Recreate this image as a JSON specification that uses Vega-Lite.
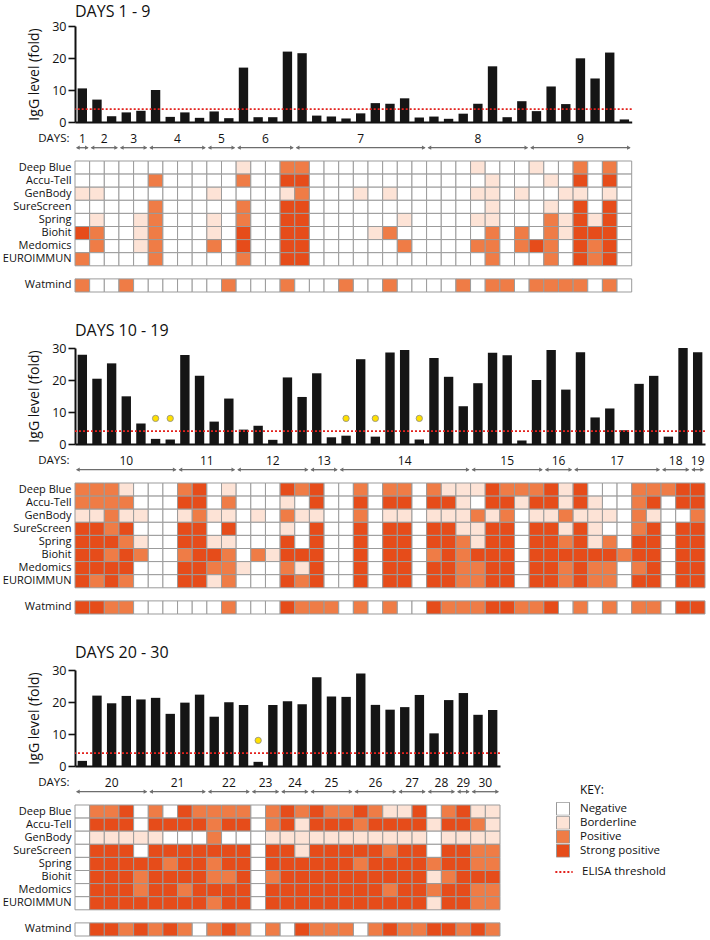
{
"$schema":"https://vega.github.io/schema/vega-lite/v6.json",
"background":"white",
"padding":{"left":2,"top":4,"right":2,"bottom":2},
"config":{"font":"Open Sans","view":{"stroke":null},"title":{"color":"#111"}},
"datasets":{
"thr":[{"thr":4,"lab":"ELISA threshold"}],
"d2":[{"col":6,"y":8},{"col":7,"y":8},{"col":19,"y":8},{"col":21,"y":8},{"col":24,"y":8}],
"d3":[{"col":13,"y":8}],
"b1":[{"col":1,"day":"1","igg":10.5},{"col":2,"day":"2","igg":7},{"col":3,"day":"2","igg":1.8},{"col":4,"day":"3","igg":3},{"col":5,"day":"3","igg":3.5},{"col":6,"day":"4","igg":10},{"col":7,"day":"4","igg":1.6},{"col":8,"day":"4","igg":3},{"col":9,"day":"4","igg":1.3},{"col":10,"day":"5","igg":3.3},{"col":11,"day":"5","igg":1.2},{"col":12,"day":"6","igg":17},{"col":13,"day":"6","igg":1.5},{"col":14,"day":"6","igg":1.5},{"col":15,"day":"6","igg":22},{"col":16,"day":"7","igg":21.5},{"col":17,"day":"7","igg":2},{"col":18,"day":"7","igg":1.7},{"col":19,"day":"7","igg":1.1},{"col":20,"day":"7","igg":2.7},{"col":21,"day":"7","igg":5.9},{"col":22,"day":"7","igg":5.7},{"col":23,"day":"7","igg":7.4},{"col":24,"day":"7","igg":1.4},{"col":25,"day":"8","igg":1.7},{"col":26,"day":"8","igg":1.0},{"col":27,"day":"8","igg":2.6},{"col":28,"day":"8","igg":5.7},{"col":29,"day":"8","igg":17.4},{"col":30,"day":"8","igg":1.5},{"col":31,"day":"8","igg":6.5},{"col":32,"day":"9","igg":3.4},{"col":33,"day":"9","igg":11.1},{"col":34,"day":"9","igg":5.6},{"col":35,"day":"9","igg":19.9},{"col":36,"day":"9","igg":13.6},{"col":37,"day":"9","igg":21.7},{"col":38,"day":"9","igg":0.8}],
"b2":[{"col":1,"day":"10","igg":27.9},{"col":2,"day":"10","igg":20.4},{"col":3,"day":"10","igg":25.2},{"col":4,"day":"10","igg":14.9},{"col":5,"day":"10","igg":6.4},{"col":6,"day":"10","igg":1.6},{"col":7,"day":"10","igg":1.4},{"col":8,"day":"11","igg":27.8},{"col":9,"day":"11","igg":21.3},{"col":10,"day":"11","igg":7.0},{"col":11,"day":"11","igg":14.2},{"col":12,"day":"12","igg":4.5},{"col":13,"day":"12","igg":5.7},{"col":14,"day":"12","igg":1.3},{"col":15,"day":"12","igg":20.8},{"col":16,"day":"12","igg":14.7},{"col":17,"day":"13","igg":22.1},{"col":18,"day":"13","igg":2.1},{"col":19,"day":"14","igg":2.6},{"col":20,"day":"14","igg":26.5},{"col":21,"day":"14","igg":2.3},{"col":22,"day":"14","igg":28.6},{"col":23,"day":"14","igg":29.4},{"col":24,"day":"14","igg":1.4},{"col":25,"day":"14","igg":26.9},{"col":26,"day":"14","igg":21.0},{"col":27,"day":"14","igg":11.8},{"col":28,"day":"15","igg":19.0},{"col":29,"day":"15","igg":28.5},{"col":30,"day":"15","igg":27.7},{"col":31,"day":"15","igg":1.1},{"col":32,"day":"15","igg":20.0},{"col":33,"day":"16","igg":29.4},{"col":34,"day":"16","igg":17.0},{"col":35,"day":"17","igg":28.7},{"col":36,"day":"17","igg":8.3},{"col":37,"day":"17","igg":11.1},{"col":38,"day":"17","igg":4.3},{"col":39,"day":"17","igg":18.8},{"col":40,"day":"17","igg":21.3},{"col":41,"day":"18","igg":2.3},{"col":42,"day":"18","igg":30.0},{"col":43,"day":"19","igg":28.7}],
"b3":[{"col":1,"day":"20","igg":1.6},{"col":2,"day":"20","igg":22.0},{"col":3,"day":"20","igg":19.6},{"col":4,"day":"20","igg":21.9},{"col":5,"day":"20","igg":20.8},{"col":6,"day":"21","igg":21.3},{"col":7,"day":"21","igg":16.3},{"col":8,"day":"21","igg":19.8},{"col":9,"day":"21","igg":22.3},{"col":10,"day":"22","igg":15.4},{"col":11,"day":"22","igg":19.9},{"col":12,"day":"22","igg":19.1},{"col":13,"day":"23","igg":1.3},{"col":14,"day":"23","igg":19.1},{"col":15,"day":"24","igg":20.2},{"col":16,"day":"24","igg":19.3},{"col":17,"day":"25","igg":27.7},{"col":18,"day":"25","igg":21.7},{"col":19,"day":"25","igg":21.6},{"col":20,"day":"26","igg":28.9},{"col":21,"day":"26","igg":19.1},{"col":22,"day":"26","igg":17.6},{"col":23,"day":"27","igg":18.4},{"col":24,"day":"27","igg":22.2},{"col":25,"day":"28","igg":10.2},{"col":26,"day":"28","igg":20.6},{"col":27,"day":"29","igg":22.8},{"col":28,"day":"30","igg":16.0},{"col":29,"day":"30","igg":17.5}],
"h1":[
{"col":1,"test":"Deep Blue","res":0},{"col":2,"test":"Deep Blue","res":0},{"col":3,"test":"Deep Blue","res":0},{"col":4,"test":"Deep Blue","res":0},{"col":5,"test":"Deep Blue","res":0},{"col":6,"test":"Deep Blue","res":0},{"col":7,"test":"Deep Blue","res":0},{"col":8,"test":"Deep Blue","res":0},{"col":9,"test":"Deep Blue","res":0},{"col":10,"test":"Deep Blue","res":0},{"col":11,"test":"Deep Blue","res":0},{"col":12,"test":"Deep Blue","res":1},{"col":13,"test":"Deep Blue","res":0},{"col":14,"test":"Deep Blue","res":0},{"col":15,"test":"Deep Blue","res":2},{"col":16,"test":"Deep Blue","res":2},{"col":17,"test":"Deep Blue","res":0},{"col":18,"test":"Deep Blue","res":0},{"col":19,"test":"Deep Blue","res":0},{"col":20,"test":"Deep Blue","res":0},{"col":21,"test":"Deep Blue","res":0},{"col":22,"test":"Deep Blue","res":0},{"col":23,"test":"Deep Blue","res":0},{"col":24,"test":"Deep Blue","res":0},{"col":25,"test":"Deep Blue","res":0},{"col":26,"test":"Deep Blue","res":0},{"col":27,"test":"Deep Blue","res":0},{"col":28,"test":"Deep Blue","res":1},{"col":29,"test":"Deep Blue","res":0},{"col":30,"test":"Deep Blue","res":0},{"col":31,"test":"Deep Blue","res":0},{"col":32,"test":"Deep Blue","res":1},{"col":33,"test":"Deep Blue","res":0},{"col":34,"test":"Deep Blue","res":0},{"col":35,"test":"Deep Blue","res":2},{"col":36,"test":"Deep Blue","res":0},{"col":37,"test":"Deep Blue","res":2},{"col":38,"test":"Deep Blue","res":0},
{"col":1,"test":"Accu-Tell","res":0},{"col":2,"test":"Accu-Tell","res":0},{"col":3,"test":"Accu-Tell","res":0},{"col":4,"test":"Accu-Tell","res":0},{"col":5,"test":"Accu-Tell","res":0},{"col":6,"test":"Accu-Tell","res":2},{"col":7,"test":"Accu-Tell","res":0},{"col":8,"test":"Accu-Tell","res":0},{"col":9,"test":"Accu-Tell","res":0},{"col":10,"test":"Accu-Tell","res":0},{"col":11,"test":"Accu-Tell","res":0},{"col":12,"test":"Accu-Tell","res":2},{"col":13,"test":"Accu-Tell","res":0},{"col":14,"test":"Accu-Tell","res":0},{"col":15,"test":"Accu-Tell","res":3},{"col":16,"test":"Accu-Tell","res":3},{"col":17,"test":"Accu-Tell","res":0},{"col":18,"test":"Accu-Tell","res":0},{"col":19,"test":"Accu-Tell","res":0},{"col":20,"test":"Accu-Tell","res":0},{"col":21,"test":"Accu-Tell","res":0},{"col":22,"test":"Accu-Tell","res":0},{"col":23,"test":"Accu-Tell","res":0},{"col":24,"test":"Accu-Tell","res":0},{"col":25,"test":"Accu-Tell","res":0},{"col":26,"test":"Accu-Tell","res":0},{"col":27,"test":"Accu-Tell","res":0},{"col":28,"test":"Accu-Tell","res":0},{"col":29,"test":"Accu-Tell","res":1},{"col":30,"test":"Accu-Tell","res":0},{"col":31,"test":"Accu-Tell","res":0},{"col":32,"test":"Accu-Tell","res":0},{"col":33,"test":"Accu-Tell","res":1},{"col":34,"test":"Accu-Tell","res":0},{"col":35,"test":"Accu-Tell","res":3},{"col":36,"test":"Accu-Tell","res":0},{"col":37,"test":"Accu-Tell","res":3},{"col":38,"test":"Accu-Tell","res":0},
{"col":1,"test":"GenBody","res":1},{"col":2,"test":"GenBody","res":1},{"col":3,"test":"GenBody","res":0},{"col":4,"test":"GenBody","res":0},{"col":5,"test":"GenBody","res":0},{"col":6,"test":"GenBody","res":0},{"col":7,"test":"GenBody","res":0},{"col":8,"test":"GenBody","res":0},{"col":9,"test":"GenBody","res":0},{"col":10,"test":"GenBody","res":1},{"col":11,"test":"GenBody","res":0},{"col":12,"test":"GenBody","res":0},{"col":13,"test":"GenBody","res":0},{"col":14,"test":"GenBody","res":0},{"col":15,"test":"GenBody","res":1},{"col":16,"test":"GenBody","res":2},{"col":17,"test":"GenBody","res":0},{"col":18,"test":"GenBody","res":0},{"col":19,"test":"GenBody","res":0},{"col":20,"test":"GenBody","res":1},{"col":21,"test":"GenBody","res":0},{"col":22,"test":"GenBody","res":1},{"col":23,"test":"GenBody","res":0},{"col":24,"test":"GenBody","res":0},{"col":25,"test":"GenBody","res":0},{"col":26,"test":"GenBody","res":0},{"col":27,"test":"GenBody","res":0},{"col":28,"test":"GenBody","res":1},{"col":29,"test":"GenBody","res":1},{"col":30,"test":"GenBody","res":0},{"col":31,"test":"GenBody","res":1},{"col":32,"test":"GenBody","res":0},{"col":33,"test":"GenBody","res":0},{"col":34,"test":"GenBody","res":1},{"col":35,"test":"GenBody","res":1},{"col":36,"test":"GenBody","res":0},{"col":37,"test":"GenBody","res":1},{"col":38,"test":"GenBody","res":0},
{"col":1,"test":"SureScreen","res":0},{"col":2,"test":"SureScreen","res":0},{"col":3,"test":"SureScreen","res":0},{"col":4,"test":"SureScreen","res":0},{"col":5,"test":"SureScreen","res":0},{"col":6,"test":"SureScreen","res":2},{"col":7,"test":"SureScreen","res":0},{"col":8,"test":"SureScreen","res":0},{"col":9,"test":"SureScreen","res":0},{"col":10,"test":"SureScreen","res":0},{"col":11,"test":"SureScreen","res":0},{"col":12,"test":"SureScreen","res":2},{"col":13,"test":"SureScreen","res":0},{"col":14,"test":"SureScreen","res":0},{"col":15,"test":"SureScreen","res":3},{"col":16,"test":"SureScreen","res":3},{"col":17,"test":"SureScreen","res":0},{"col":18,"test":"SureScreen","res":0},{"col":19,"test":"SureScreen","res":0},{"col":20,"test":"SureScreen","res":0},{"col":21,"test":"SureScreen","res":0},{"col":22,"test":"SureScreen","res":0},{"col":23,"test":"SureScreen","res":0},{"col":24,"test":"SureScreen","res":0},{"col":25,"test":"SureScreen","res":0},{"col":26,"test":"SureScreen","res":0},{"col":27,"test":"SureScreen","res":0},{"col":28,"test":"SureScreen","res":0},{"col":29,"test":"SureScreen","res":1},{"col":30,"test":"SureScreen","res":0},{"col":31,"test":"SureScreen","res":0},{"col":32,"test":"SureScreen","res":0},{"col":33,"test":"SureScreen","res":1},{"col":34,"test":"SureScreen","res":0},{"col":35,"test":"SureScreen","res":3},{"col":36,"test":"SureScreen","res":0},{"col":37,"test":"SureScreen","res":3},{"col":38,"test":"SureScreen","res":0},
{"col":1,"test":"Spring","res":0},{"col":2,"test":"Spring","res":1},{"col":3,"test":"Spring","res":0},{"col":4,"test":"Spring","res":0},{"col":5,"test":"Spring","res":1},{"col":6,"test":"Spring","res":2},{"col":7,"test":"Spring","res":0},{"col":8,"test":"Spring","res":0},{"col":9,"test":"Spring","res":0},{"col":10,"test":"Spring","res":1},{"col":11,"test":"Spring","res":0},{"col":12,"test":"Spring","res":2},{"col":13,"test":"Spring","res":0},{"col":14,"test":"Spring","res":0},{"col":15,"test":"Spring","res":3},{"col":16,"test":"Spring","res":3},{"col":17,"test":"Spring","res":0},{"col":18,"test":"Spring","res":0},{"col":19,"test":"Spring","res":0},{"col":20,"test":"Spring","res":0},{"col":21,"test":"Spring","res":0},{"col":22,"test":"Spring","res":0},{"col":23,"test":"Spring","res":1},{"col":24,"test":"Spring","res":0},{"col":25,"test":"Spring","res":0},{"col":26,"test":"Spring","res":0},{"col":27,"test":"Spring","res":0},{"col":28,"test":"Spring","res":1},{"col":29,"test":"Spring","res":1},{"col":30,"test":"Spring","res":0},{"col":31,"test":"Spring","res":0},{"col":32,"test":"Spring","res":0},{"col":33,"test":"Spring","res":2},{"col":34,"test":"Spring","res":1},{"col":35,"test":"Spring","res":3},{"col":36,"test":"Spring","res":1},{"col":37,"test":"Spring","res":3},{"col":38,"test":"Spring","res":0},
{"col":1,"test":"Biohit","res":3},{"col":2,"test":"Biohit","res":2},{"col":3,"test":"Biohit","res":0},{"col":4,"test":"Biohit","res":0},{"col":5,"test":"Biohit","res":1},{"col":6,"test":"Biohit","res":2},{"col":7,"test":"Biohit","res":0},{"col":8,"test":"Biohit","res":0},{"col":9,"test":"Biohit","res":0},{"col":10,"test":"Biohit","res":1},{"col":11,"test":"Biohit","res":0},{"col":12,"test":"Biohit","res":3},{"col":13,"test":"Biohit","res":0},{"col":14,"test":"Biohit","res":0},{"col":15,"test":"Biohit","res":3},{"col":16,"test":"Biohit","res":3},{"col":17,"test":"Biohit","res":0},{"col":18,"test":"Biohit","res":0},{"col":19,"test":"Biohit","res":0},{"col":20,"test":"Biohit","res":0},{"col":21,"test":"Biohit","res":1},{"col":22,"test":"Biohit","res":2},{"col":23,"test":"Biohit","res":0},{"col":24,"test":"Biohit","res":0},{"col":25,"test":"Biohit","res":0},{"col":26,"test":"Biohit","res":0},{"col":27,"test":"Biohit","res":0},{"col":28,"test":"Biohit","res":0},{"col":29,"test":"Biohit","res":2},{"col":30,"test":"Biohit","res":0},{"col":31,"test":"Biohit","res":2},{"col":32,"test":"Biohit","res":0},{"col":33,"test":"Biohit","res":2},{"col":34,"test":"Biohit","res":1},{"col":35,"test":"Biohit","res":3},{"col":36,"test":"Biohit","res":3},{"col":37,"test":"Biohit","res":3},{"col":38,"test":"Biohit","res":0},
{"col":1,"test":"Medomics","res":0},{"col":2,"test":"Medomics","res":2},{"col":3,"test":"Medomics","res":0},{"col":4,"test":"Medomics","res":0},{"col":5,"test":"Medomics","res":1},{"col":6,"test":"Medomics","res":2},{"col":7,"test":"Medomics","res":0},{"col":8,"test":"Medomics","res":0},{"col":9,"test":"Medomics","res":0},{"col":10,"test":"Medomics","res":2},{"col":11,"test":"Medomics","res":0},{"col":12,"test":"Medomics","res":3},{"col":13,"test":"Medomics","res":0},{"col":14,"test":"Medomics","res":0},{"col":15,"test":"Medomics","res":3},{"col":16,"test":"Medomics","res":3},{"col":17,"test":"Medomics","res":0},{"col":18,"test":"Medomics","res":0},{"col":19,"test":"Medomics","res":0},{"col":20,"test":"Medomics","res":0},{"col":21,"test":"Medomics","res":0},{"col":22,"test":"Medomics","res":0},{"col":23,"test":"Medomics","res":2},{"col":24,"test":"Medomics","res":0},{"col":25,"test":"Medomics","res":0},{"col":26,"test":"Medomics","res":0},{"col":27,"test":"Medomics","res":0},{"col":28,"test":"Medomics","res":2},{"col":29,"test":"Medomics","res":2},{"col":30,"test":"Medomics","res":0},{"col":31,"test":"Medomics","res":2},{"col":32,"test":"Medomics","res":3},{"col":33,"test":"Medomics","res":2},{"col":34,"test":"Medomics","res":0},{"col":35,"test":"Medomics","res":3},{"col":36,"test":"Medomics","res":2},{"col":37,"test":"Medomics","res":3},{"col":38,"test":"Medomics","res":0},
{"col":1,"test":"EUROIMMUN","res":2},{"col":2,"test":"EUROIMMUN","res":0},{"col":3,"test":"EUROIMMUN","res":0},{"col":4,"test":"EUROIMMUN","res":0},{"col":5,"test":"EUROIMMUN","res":0},{"col":6,"test":"EUROIMMUN","res":2},{"col":7,"test":"EUROIMMUN","res":0},{"col":8,"test":"EUROIMMUN","res":0},{"col":9,"test":"EUROIMMUN","res":0},{"col":10,"test":"EUROIMMUN","res":0},{"col":11,"test":"EUROIMMUN","res":0},{"col":12,"test":"EUROIMMUN","res":2},{"col":13,"test":"EUROIMMUN","res":0},{"col":14,"test":"EUROIMMUN","res":0},{"col":15,"test":"EUROIMMUN","res":3},{"col":16,"test":"EUROIMMUN","res":3},{"col":17,"test":"EUROIMMUN","res":0},{"col":18,"test":"EUROIMMUN","res":0},{"col":19,"test":"EUROIMMUN","res":0},{"col":20,"test":"EUROIMMUN","res":0},{"col":21,"test":"EUROIMMUN","res":0},{"col":22,"test":"EUROIMMUN","res":0},{"col":23,"test":"EUROIMMUN","res":0},{"col":24,"test":"EUROIMMUN","res":0},{"col":25,"test":"EUROIMMUN","res":0},{"col":26,"test":"EUROIMMUN","res":0},{"col":27,"test":"EUROIMMUN","res":0},{"col":28,"test":"EUROIMMUN","res":0},{"col":29,"test":"EUROIMMUN","res":2},{"col":30,"test":"EUROIMMUN","res":0},{"col":31,"test":"EUROIMMUN","res":0},{"col":32,"test":"EUROIMMUN","res":0},{"col":33,"test":"EUROIMMUN","res":2},{"col":34,"test":"EUROIMMUN","res":0},{"col":35,"test":"EUROIMMUN","res":3},{"col":36,"test":"EUROIMMUN","res":2},{"col":37,"test":"EUROIMMUN","res":3},{"col":38,"test":"EUROIMMUN","res":0},
{"col":1,"test":"Watmind","res":2},{"col":2,"test":"Watmind","res":0},{"col":3,"test":"Watmind","res":0},{"col":4,"test":"Watmind","res":2},{"col":5,"test":"Watmind","res":0},{"col":6,"test":"Watmind","res":0},{"col":7,"test":"Watmind","res":0},{"col":8,"test":"Watmind","res":0},{"col":9,"test":"Watmind","res":0},{"col":10,"test":"Watmind","res":0},{"col":11,"test":"Watmind","res":2},{"col":12,"test":"Watmind","res":0},{"col":13,"test":"Watmind","res":0},{"col":14,"test":"Watmind","res":0},{"col":15,"test":"Watmind","res":2},{"col":16,"test":"Watmind","res":0},{"col":17,"test":"Watmind","res":0},{"col":18,"test":"Watmind","res":0},{"col":19,"test":"Watmind","res":2},{"col":20,"test":"Watmind","res":0},{"col":21,"test":"Watmind","res":0},{"col":22,"test":"Watmind","res":2},{"col":23,"test":"Watmind","res":0},{"col":24,"test":"Watmind","res":0},{"col":25,"test":"Watmind","res":0},{"col":26,"test":"Watmind","res":0},{"col":27,"test":"Watmind","res":2},{"col":28,"test":"Watmind","res":0},{"col":29,"test":"Watmind","res":2},{"col":30,"test":"Watmind","res":2},{"col":31,"test":"Watmind","res":0},{"col":32,"test":"Watmind","res":2},{"col":33,"test":"Watmind","res":2},{"col":34,"test":"Watmind","res":2},{"col":35,"test":"Watmind","res":2},{"col":36,"test":"Watmind","res":0},{"col":37,"test":"Watmind","res":2},{"col":38,"test":"Watmind","res":0}
],
"h2":[
{"col":1,"test":"Deep Blue","res":2},{"col":2,"test":"Deep Blue","res":2},{"col":3,"test":"Deep Blue","res":2},{"col":4,"test":"Deep Blue","res":1},{"col":5,"test":"Deep Blue","res":0},{"col":6,"test":"Deep Blue","res":0},{"col":7,"test":"Deep Blue","res":0},{"col":8,"test":"Deep Blue","res":2},{"col":9,"test":"Deep Blue","res":3},{"col":10,"test":"Deep Blue","res":0},{"col":11,"test":"Deep Blue","res":1},{"col":12,"test":"Deep Blue","res":0},{"col":13,"test":"Deep Blue","res":0},{"col":14,"test":"Deep Blue","res":0},{"col":15,"test":"Deep Blue","res":3},{"col":16,"test":"Deep Blue","res":2},{"col":17,"test":"Deep Blue","res":3},{"col":18,"test":"Deep Blue","res":0},{"col":19,"test":"Deep Blue","res":0},{"col":20,"test":"Deep Blue","res":2},{"col":21,"test":"Deep Blue","res":0},{"col":22,"test":"Deep Blue","res":2},{"col":23,"test":"Deep Blue","res":2},{"col":24,"test":"Deep Blue","res":0},{"col":25,"test":"Deep Blue","res":2},{"col":26,"test":"Deep Blue","res":1},{"col":27,"test":"Deep Blue","res":1},{"col":28,"test":"Deep Blue","res":1},{"col":29,"test":"Deep Blue","res":3},{"col":30,"test":"Deep Blue","res":2},{"col":31,"test":"Deep Blue","res":2},{"col":32,"test":"Deep Blue","res":2},{"col":33,"test":"Deep Blue","res":3},{"col":34,"test":"Deep Blue","res":1},{"col":35,"test":"Deep Blue","res":3},{"col":36,"test":"Deep Blue","res":0},{"col":37,"test":"Deep Blue","res":0},{"col":38,"test":"Deep Blue","res":0},{"col":39,"test":"Deep Blue","res":2},{"col":40,"test":"Deep Blue","res":2},{"col":41,"test":"Deep Blue","res":2},{"col":42,"test":"Deep Blue","res":3},{"col":43,"test":"Deep Blue","res":3},
{"col":1,"test":"Accu-Tell","res":2},{"col":2,"test":"Accu-Tell","res":2},{"col":3,"test":"Accu-Tell","res":2},{"col":4,"test":"Accu-Tell","res":2},{"col":5,"test":"Accu-Tell","res":0},{"col":6,"test":"Accu-Tell","res":0},{"col":7,"test":"Accu-Tell","res":0},{"col":8,"test":"Accu-Tell","res":3},{"col":9,"test":"Accu-Tell","res":3},{"col":10,"test":"Accu-Tell","res":0},{"col":11,"test":"Accu-Tell","res":2},{"col":12,"test":"Accu-Tell","res":0},{"col":13,"test":"Accu-Tell","res":0},{"col":14,"test":"Accu-Tell","res":0},{"col":15,"test":"Accu-Tell","res":1},{"col":16,"test":"Accu-Tell","res":0},{"col":17,"test":"Accu-Tell","res":3},{"col":18,"test":"Accu-Tell","res":0},{"col":19,"test":"Accu-Tell","res":0},{"col":20,"test":"Accu-Tell","res":3},{"col":21,"test":"Accu-Tell","res":0},{"col":22,"test":"Accu-Tell","res":3},{"col":23,"test":"Accu-Tell","res":3},{"col":24,"test":"Accu-Tell","res":0},{"col":25,"test":"Accu-Tell","res":3},{"col":26,"test":"Accu-Tell","res":3},{"col":27,"test":"Accu-Tell","res":1},{"col":28,"test":"Accu-Tell","res":0},{"col":29,"test":"Accu-Tell","res":3},{"col":30,"test":"Accu-Tell","res":3},{"col":31,"test":"Accu-Tell","res":1},{"col":32,"test":"Accu-Tell","res":3},{"col":33,"test":"Accu-Tell","res":3},{"col":34,"test":"Accu-Tell","res":1},{"col":35,"test":"Accu-Tell","res":3},{"col":36,"test":"Accu-Tell","res":1},{"col":37,"test":"Accu-Tell","res":0},{"col":38,"test":"Accu-Tell","res":0},{"col":39,"test":"Accu-Tell","res":2},{"col":40,"test":"Accu-Tell","res":3},{"col":41,"test":"Accu-Tell","res":0},{"col":42,"test":"Accu-Tell","res":3},{"col":43,"test":"Accu-Tell","res":3},
{"col":1,"test":"GenBody","res":1},{"col":2,"test":"GenBody","res":1},{"col":3,"test":"GenBody","res":2},{"col":4,"test":"GenBody","res":1},{"col":5,"test":"GenBody","res":1},{"col":6,"test":"GenBody","res":0},{"col":7,"test":"GenBody","res":0},{"col":8,"test":"GenBody","res":1},{"col":9,"test":"GenBody","res":2},{"col":10,"test":"GenBody","res":1},{"col":11,"test":"GenBody","res":1},{"col":12,"test":"GenBody","res":0},{"col":13,"test":"GenBody","res":1},{"col":14,"test":"GenBody","res":0},{"col":15,"test":"GenBody","res":2},{"col":16,"test":"GenBody","res":1},{"col":17,"test":"GenBody","res":1},{"col":18,"test":"GenBody","res":0},{"col":19,"test":"GenBody","res":0},{"col":20,"test":"GenBody","res":2},{"col":21,"test":"GenBody","res":0},{"col":22,"test":"GenBody","res":1},{"col":23,"test":"GenBody","res":1},{"col":24,"test":"GenBody","res":0},{"col":25,"test":"GenBody","res":1},{"col":26,"test":"GenBody","res":1},{"col":27,"test":"GenBody","res":1},{"col":28,"test":"GenBody","res":2},{"col":29,"test":"GenBody","res":1},{"col":30,"test":"GenBody","res":2},{"col":31,"test":"GenBody","res":0},{"col":32,"test":"GenBody","res":1},{"col":33,"test":"GenBody","res":1},{"col":34,"test":"GenBody","res":2},{"col":35,"test":"GenBody","res":1},{"col":36,"test":"GenBody","res":1},{"col":37,"test":"GenBody","res":1},{"col":38,"test":"GenBody","res":0},{"col":39,"test":"GenBody","res":2},{"col":40,"test":"GenBody","res":1},{"col":41,"test":"GenBody","res":0},{"col":42,"test":"GenBody","res":0},{"col":43,"test":"GenBody","res":2},
{"col":1,"test":"SureScreen","res":3},{"col":2,"test":"SureScreen","res":3},{"col":3,"test":"SureScreen","res":2},{"col":4,"test":"SureScreen","res":3},{"col":5,"test":"SureScreen","res":0},{"col":6,"test":"SureScreen","res":0},{"col":7,"test":"SureScreen","res":0},{"col":8,"test":"SureScreen","res":3},{"col":9,"test":"SureScreen","res":3},{"col":10,"test":"SureScreen","res":0},{"col":11,"test":"SureScreen","res":3},{"col":12,"test":"SureScreen","res":0},{"col":13,"test":"SureScreen","res":0},{"col":14,"test":"SureScreen","res":0},{"col":15,"test":"SureScreen","res":1},{"col":16,"test":"SureScreen","res":0},{"col":17,"test":"SureScreen","res":3},{"col":18,"test":"SureScreen","res":0},{"col":19,"test":"SureScreen","res":0},{"col":20,"test":"SureScreen","res":3},{"col":21,"test":"SureScreen","res":0},{"col":22,"test":"SureScreen","res":3},{"col":23,"test":"SureScreen","res":3},{"col":24,"test":"SureScreen","res":0},{"col":25,"test":"SureScreen","res":3},{"col":26,"test":"SureScreen","res":3},{"col":27,"test":"SureScreen","res":1},{"col":28,"test":"SureScreen","res":1},{"col":29,"test":"SureScreen","res":3},{"col":30,"test":"SureScreen","res":3},{"col":31,"test":"SureScreen","res":0},{"col":32,"test":"SureScreen","res":3},{"col":33,"test":"SureScreen","res":3},{"col":34,"test":"SureScreen","res":1},{"col":35,"test":"SureScreen","res":3},{"col":36,"test":"SureScreen","res":1},{"col":37,"test":"SureScreen","res":0},{"col":38,"test":"SureScreen","res":0},{"col":39,"test":"SureScreen","res":2},{"col":40,"test":"SureScreen","res":3},{"col":41,"test":"SureScreen","res":0},{"col":42,"test":"SureScreen","res":3},{"col":43,"test":"SureScreen","res":3},
{"col":1,"test":"Spring","res":3},{"col":2,"test":"Spring","res":3},{"col":3,"test":"Spring","res":3},{"col":4,"test":"Spring","res":2},{"col":5,"test":"Spring","res":1},{"col":6,"test":"Spring","res":0},{"col":7,"test":"Spring","res":0},{"col":8,"test":"Spring","res":3},{"col":9,"test":"Spring","res":3},{"col":10,"test":"Spring","res":1},{"col":11,"test":"Spring","res":1},{"col":12,"test":"Spring","res":0},{"col":13,"test":"Spring","res":0},{"col":14,"test":"Spring","res":0},{"col":15,"test":"Spring","res":3},{"col":16,"test":"Spring","res":0},{"col":17,"test":"Spring","res":3},{"col":18,"test":"Spring","res":0},{"col":19,"test":"Spring","res":0},{"col":20,"test":"Spring","res":3},{"col":21,"test":"Spring","res":0},{"col":22,"test":"Spring","res":3},{"col":23,"test":"Spring","res":3},{"col":24,"test":"Spring","res":0},{"col":25,"test":"Spring","res":3},{"col":26,"test":"Spring","res":3},{"col":27,"test":"Spring","res":2},{"col":28,"test":"Spring","res":1},{"col":29,"test":"Spring","res":3},{"col":30,"test":"Spring","res":3},{"col":31,"test":"Spring","res":0},{"col":32,"test":"Spring","res":3},{"col":33,"test":"Spring","res":3},{"col":34,"test":"Spring","res":2},{"col":35,"test":"Spring","res":3},{"col":36,"test":"Spring","res":1},{"col":37,"test":"Spring","res":2},{"col":38,"test":"Spring","res":0},{"col":39,"test":"Spring","res":3},{"col":40,"test":"Spring","res":3},{"col":41,"test":"Spring","res":0},{"col":42,"test":"Spring","res":3},{"col":43,"test":"Spring","res":3},
{"col":1,"test":"Biohit","res":3},{"col":2,"test":"Biohit","res":3},{"col":3,"test":"Biohit","res":2},{"col":4,"test":"Biohit","res":3},{"col":5,"test":"Biohit","res":2},{"col":6,"test":"Biohit","res":0},{"col":7,"test":"Biohit","res":0},{"col":8,"test":"Biohit","res":2},{"col":9,"test":"Biohit","res":3},{"col":10,"test":"Biohit","res":3},{"col":11,"test":"Biohit","res":2},{"col":12,"test":"Biohit","res":0},{"col":13,"test":"Biohit","res":2},{"col":14,"test":"Biohit","res":1},{"col":15,"test":"Biohit","res":3},{"col":16,"test":"Biohit","res":3},{"col":17,"test":"Biohit","res":3},{"col":18,"test":"Biohit","res":0},{"col":19,"test":"Biohit","res":0},{"col":20,"test":"Biohit","res":3},{"col":21,"test":"Biohit","res":0},{"col":22,"test":"Biohit","res":3},{"col":23,"test":"Biohit","res":3},{"col":24,"test":"Biohit","res":0},{"col":25,"test":"Biohit","res":2},{"col":26,"test":"Biohit","res":3},{"col":27,"test":"Biohit","res":2},{"col":28,"test":"Biohit","res":3},{"col":29,"test":"Biohit","res":3},{"col":30,"test":"Biohit","res":3},{"col":31,"test":"Biohit","res":0},{"col":32,"test":"Biohit","res":3},{"col":33,"test":"Biohit","res":3},{"col":34,"test":"Biohit","res":3},{"col":35,"test":"Biohit","res":3},{"col":36,"test":"Biohit","res":3},{"col":37,"test":"Biohit","res":3},{"col":38,"test":"Biohit","res":2},{"col":39,"test":"Biohit","res":3},{"col":40,"test":"Biohit","res":3},{"col":41,"test":"Biohit","res":0},{"col":42,"test":"Biohit","res":3},{"col":43,"test":"Biohit","res":3},
{"col":1,"test":"Medomics","res":3},{"col":2,"test":"Medomics","res":3},{"col":3,"test":"Medomics","res":3},{"col":4,"test":"Medomics","res":3},{"col":5,"test":"Medomics","res":0},{"col":6,"test":"Medomics","res":0},{"col":7,"test":"Medomics","res":0},{"col":8,"test":"Medomics","res":3},{"col":9,"test":"Medomics","res":3},{"col":10,"test":"Medomics","res":2},{"col":11,"test":"Medomics","res":2},{"col":12,"test":"Medomics","res":1},{"col":13,"test":"Medomics","res":0},{"col":14,"test":"Medomics","res":0},{"col":15,"test":"Medomics","res":2},{"col":16,"test":"Medomics","res":1},{"col":17,"test":"Medomics","res":3},{"col":18,"test":"Medomics","res":0},{"col":19,"test":"Medomics","res":0},{"col":20,"test":"Medomics","res":3},{"col":21,"test":"Medomics","res":0},{"col":22,"test":"Medomics","res":3},{"col":23,"test":"Medomics","res":3},{"col":24,"test":"Medomics","res":0},{"col":25,"test":"Medomics","res":3},{"col":26,"test":"Medomics","res":3},{"col":27,"test":"Medomics","res":2},{"col":28,"test":"Medomics","res":2},{"col":29,"test":"Medomics","res":3},{"col":30,"test":"Medomics","res":3},{"col":31,"test":"Medomics","res":0},{"col":32,"test":"Medomics","res":3},{"col":33,"test":"Medomics","res":3},{"col":34,"test":"Medomics","res":2},{"col":35,"test":"Medomics","res":3},{"col":36,"test":"Medomics","res":2},{"col":37,"test":"Medomics","res":2},{"col":38,"test":"Medomics","res":0},{"col":39,"test":"Medomics","res":2},{"col":40,"test":"Medomics","res":3},{"col":41,"test":"Medomics","res":0},{"col":42,"test":"Medomics","res":3},{"col":43,"test":"Medomics","res":3},
{"col":1,"test":"EUROIMMUN","res":3},{"col":2,"test":"EUROIMMUN","res":2},{"col":3,"test":"EUROIMMUN","res":3},{"col":4,"test":"EUROIMMUN","res":2},{"col":5,"test":"EUROIMMUN","res":0},{"col":6,"test":"EUROIMMUN","res":0},{"col":7,"test":"EUROIMMUN","res":0},{"col":8,"test":"EUROIMMUN","res":3},{"col":9,"test":"EUROIMMUN","res":3},{"col":10,"test":"EUROIMMUN","res":1},{"col":11,"test":"EUROIMMUN","res":2},{"col":12,"test":"EUROIMMUN","res":0},{"col":13,"test":"EUROIMMUN","res":0},{"col":14,"test":"EUROIMMUN","res":0},{"col":15,"test":"EUROIMMUN","res":3},{"col":16,"test":"EUROIMMUN","res":2},{"col":17,"test":"EUROIMMUN","res":3},{"col":18,"test":"EUROIMMUN","res":0},{"col":19,"test":"EUROIMMUN","res":0},{"col":20,"test":"EUROIMMUN","res":3},{"col":21,"test":"EUROIMMUN","res":0},{"col":22,"test":"EUROIMMUN","res":3},{"col":23,"test":"EUROIMMUN","res":3},{"col":24,"test":"EUROIMMUN","res":0},{"col":25,"test":"EUROIMMUN","res":3},{"col":26,"test":"EUROIMMUN","res":3},{"col":27,"test":"EUROIMMUN","res":2},{"col":28,"test":"EUROIMMUN","res":2},{"col":29,"test":"EUROIMMUN","res":3},{"col":30,"test":"EUROIMMUN","res":3},{"col":31,"test":"EUROIMMUN","res":0},{"col":32,"test":"EUROIMMUN","res":3},{"col":33,"test":"EUROIMMUN","res":3},{"col":34,"test":"EUROIMMUN","res":2},{"col":35,"test":"EUROIMMUN","res":3},{"col":36,"test":"EUROIMMUN","res":2},{"col":37,"test":"EUROIMMUN","res":2},{"col":38,"test":"EUROIMMUN","res":0},{"col":39,"test":"EUROIMMUN","res":3},{"col":40,"test":"EUROIMMUN","res":3},{"col":41,"test":"EUROIMMUN","res":0},{"col":42,"test":"EUROIMMUN","res":3},{"col":43,"test":"EUROIMMUN","res":3},
{"col":1,"test":"Watmind","res":3},{"col":2,"test":"Watmind","res":3},{"col":3,"test":"Watmind","res":2},{"col":4,"test":"Watmind","res":2},{"col":5,"test":"Watmind","res":0},{"col":6,"test":"Watmind","res":0},{"col":7,"test":"Watmind","res":0},{"col":8,"test":"Watmind","res":0},{"col":9,"test":"Watmind","res":0},{"col":10,"test":"Watmind","res":0},{"col":11,"test":"Watmind","res":2},{"col":12,"test":"Watmind","res":0},{"col":13,"test":"Watmind","res":0},{"col":14,"test":"Watmind","res":0},{"col":15,"test":"Watmind","res":3},{"col":16,"test":"Watmind","res":2},{"col":17,"test":"Watmind","res":2},{"col":18,"test":"Watmind","res":2},{"col":19,"test":"Watmind","res":0},{"col":20,"test":"Watmind","res":2},{"col":21,"test":"Watmind","res":0},{"col":22,"test":"Watmind","res":2},{"col":23,"test":"Watmind","res":0},{"col":24,"test":"Watmind","res":0},{"col":25,"test":"Watmind","res":3},{"col":26,"test":"Watmind","res":2},{"col":27,"test":"Watmind","res":2},{"col":28,"test":"Watmind","res":2},{"col":29,"test":"Watmind","res":3},{"col":30,"test":"Watmind","res":3},{"col":31,"test":"Watmind","res":2},{"col":32,"test":"Watmind","res":2},{"col":33,"test":"Watmind","res":3},{"col":34,"test":"Watmind","res":0},{"col":35,"test":"Watmind","res":2},{"col":36,"test":"Watmind","res":0},{"col":37,"test":"Watmind","res":2},{"col":38,"test":"Watmind","res":0},{"col":39,"test":"Watmind","res":2},{"col":40,"test":"Watmind","res":2},{"col":41,"test":"Watmind","res":0},{"col":42,"test":"Watmind","res":3},{"col":43,"test":"Watmind","res":3}
],
"h3":[
{"col":1,"test":"Deep Blue","res":0},{"col":2,"test":"Deep Blue","res":2},{"col":3,"test":"Deep Blue","res":2},{"col":4,"test":"Deep Blue","res":3},{"col":5,"test":"Deep Blue","res":0},{"col":6,"test":"Deep Blue","res":2},{"col":7,"test":"Deep Blue","res":0},{"col":8,"test":"Deep Blue","res":3},{"col":9,"test":"Deep Blue","res":2},{"col":10,"test":"Deep Blue","res":2},{"col":11,"test":"Deep Blue","res":2},{"col":12,"test":"Deep Blue","res":2},{"col":13,"test":"Deep Blue","res":0},{"col":14,"test":"Deep Blue","res":2},{"col":15,"test":"Deep Blue","res":3},{"col":16,"test":"Deep Blue","res":2},{"col":17,"test":"Deep Blue","res":3},{"col":18,"test":"Deep Blue","res":2},{"col":19,"test":"Deep Blue","res":2},{"col":20,"test":"Deep Blue","res":3},{"col":21,"test":"Deep Blue","res":2},{"col":22,"test":"Deep Blue","res":1},{"col":23,"test":"Deep Blue","res":1},{"col":24,"test":"Deep Blue","res":3},{"col":25,"test":"Deep Blue","res":0},{"col":26,"test":"Deep Blue","res":2},{"col":27,"test":"Deep Blue","res":3},{"col":28,"test":"Deep Blue","res":1},{"col":29,"test":"Deep Blue","res":1},
{"col":1,"test":"Accu-Tell","res":0},{"col":2,"test":"Accu-Tell","res":3},{"col":3,"test":"Accu-Tell","res":3},{"col":4,"test":"Accu-Tell","res":3},{"col":5,"test":"Accu-Tell","res":0},{"col":6,"test":"Accu-Tell","res":3},{"col":7,"test":"Accu-Tell","res":3},{"col":8,"test":"Accu-Tell","res":3},{"col":9,"test":"Accu-Tell","res":3},{"col":10,"test":"Accu-Tell","res":2},{"col":11,"test":"Accu-Tell","res":3},{"col":12,"test":"Accu-Tell","res":3},{"col":13,"test":"Accu-Tell","res":0},{"col":14,"test":"Accu-Tell","res":2},{"col":15,"test":"Accu-Tell","res":3},{"col":16,"test":"Accu-Tell","res":1},{"col":17,"test":"Accu-Tell","res":3},{"col":18,"test":"Accu-Tell","res":3},{"col":19,"test":"Accu-Tell","res":3},{"col":20,"test":"Accu-Tell","res":2},{"col":21,"test":"Accu-Tell","res":3},{"col":22,"test":"Accu-Tell","res":3},{"col":23,"test":"Accu-Tell","res":3},{"col":24,"test":"Accu-Tell","res":3},{"col":25,"test":"Accu-Tell","res":1},{"col":26,"test":"Accu-Tell","res":3},{"col":27,"test":"Accu-Tell","res":3},{"col":28,"test":"Accu-Tell","res":2},{"col":29,"test":"Accu-Tell","res":1},
{"col":1,"test":"GenBody","res":0},{"col":2,"test":"GenBody","res":1},{"col":3,"test":"GenBody","res":1},{"col":4,"test":"GenBody","res":1},{"col":5,"test":"GenBody","res":1},{"col":6,"test":"GenBody","res":1},{"col":7,"test":"GenBody","res":0},{"col":8,"test":"GenBody","res":0},{"col":9,"test":"GenBody","res":0},{"col":10,"test":"GenBody","res":2},{"col":11,"test":"GenBody","res":0},{"col":12,"test":"GenBody","res":0},{"col":13,"test":"GenBody","res":0},{"col":14,"test":"GenBody","res":1},{"col":15,"test":"GenBody","res":1},{"col":16,"test":"GenBody","res":1},{"col":17,"test":"GenBody","res":1},{"col":18,"test":"GenBody","res":1},{"col":19,"test":"GenBody","res":1},{"col":20,"test":"GenBody","res":1},{"col":21,"test":"GenBody","res":1},{"col":22,"test":"GenBody","res":1},{"col":23,"test":"GenBody","res":1},{"col":24,"test":"GenBody","res":1},{"col":25,"test":"GenBody","res":0},{"col":26,"test":"GenBody","res":1},{"col":27,"test":"GenBody","res":1},{"col":28,"test":"GenBody","res":1},{"col":29,"test":"GenBody","res":1},
{"col":1,"test":"SureScreen","res":0},{"col":2,"test":"SureScreen","res":3},{"col":3,"test":"SureScreen","res":3},{"col":4,"test":"SureScreen","res":3},{"col":5,"test":"SureScreen","res":0},{"col":6,"test":"SureScreen","res":3},{"col":7,"test":"SureScreen","res":3},{"col":8,"test":"SureScreen","res":3},{"col":9,"test":"SureScreen","res":3},{"col":10,"test":"SureScreen","res":3},{"col":11,"test":"SureScreen","res":3},{"col":12,"test":"SureScreen","res":3},{"col":13,"test":"SureScreen","res":0},{"col":14,"test":"SureScreen","res":3},{"col":15,"test":"SureScreen","res":3},{"col":16,"test":"SureScreen","res":1},{"col":17,"test":"SureScreen","res":3},{"col":18,"test":"SureScreen","res":3},{"col":19,"test":"SureScreen","res":3},{"col":20,"test":"SureScreen","res":3},{"col":21,"test":"SureScreen","res":3},{"col":22,"test":"SureScreen","res":2},{"col":23,"test":"SureScreen","res":3},{"col":24,"test":"SureScreen","res":3},{"col":25,"test":"SureScreen","res":0},{"col":26,"test":"SureScreen","res":3},{"col":27,"test":"SureScreen","res":3},{"col":28,"test":"SureScreen","res":2},{"col":29,"test":"SureScreen","res":2},
{"col":1,"test":"Spring","res":0},{"col":2,"test":"Spring","res":3},{"col":3,"test":"Spring","res":3},{"col":4,"test":"Spring","res":3},{"col":5,"test":"Spring","res":3},{"col":6,"test":"Spring","res":3},{"col":7,"test":"Spring","res":2},{"col":8,"test":"Spring","res":3},{"col":9,"test":"Spring","res":3},{"col":10,"test":"Spring","res":2},{"col":11,"test":"Spring","res":3},{"col":12,"test":"Spring","res":3},{"col":13,"test":"Spring","res":0},{"col":14,"test":"Spring","res":3},{"col":15,"test":"Spring","res":3},{"col":16,"test":"Spring","res":3},{"col":17,"test":"Spring","res":3},{"col":18,"test":"Spring","res":3},{"col":19,"test":"Spring","res":3},{"col":20,"test":"Spring","res":2},{"col":21,"test":"Spring","res":3},{"col":22,"test":"Spring","res":3},{"col":23,"test":"Spring","res":3},{"col":24,"test":"Spring","res":3},{"col":25,"test":"Spring","res":2},{"col":26,"test":"Spring","res":3},{"col":27,"test":"Spring","res":3},{"col":28,"test":"Spring","res":2},{"col":29,"test":"Spring","res":2},
{"col":1,"test":"Biohit","res":0},{"col":2,"test":"Biohit","res":3},{"col":3,"test":"Biohit","res":3},{"col":4,"test":"Biohit","res":3},{"col":5,"test":"Biohit","res":2},{"col":6,"test":"Biohit","res":3},{"col":7,"test":"Biohit","res":3},{"col":8,"test":"Biohit","res":3},{"col":9,"test":"Biohit","res":3},{"col":10,"test":"Biohit","res":2},{"col":11,"test":"Biohit","res":2},{"col":12,"test":"Biohit","res":3},{"col":13,"test":"Biohit","res":0},{"col":14,"test":"Biohit","res":2},{"col":15,"test":"Biohit","res":3},{"col":16,"test":"Biohit","res":3},{"col":17,"test":"Biohit","res":3},{"col":18,"test":"Biohit","res":3},{"col":19,"test":"Biohit","res":3},{"col":20,"test":"Biohit","res":3},{"col":21,"test":"Biohit","res":3},{"col":22,"test":"Biohit","res":3},{"col":23,"test":"Biohit","res":3},{"col":24,"test":"Biohit","res":3},{"col":25,"test":"Biohit","res":1},{"col":26,"test":"Biohit","res":2},{"col":27,"test":"Biohit","res":3},{"col":28,"test":"Biohit","res":3},{"col":29,"test":"Biohit","res":3},
{"col":1,"test":"Medomics","res":0},{"col":2,"test":"Medomics","res":3},{"col":3,"test":"Medomics","res":3},{"col":4,"test":"Medomics","res":3},{"col":5,"test":"Medomics","res":2},{"col":6,"test":"Medomics","res":3},{"col":7,"test":"Medomics","res":3},{"col":8,"test":"Medomics","res":2},{"col":9,"test":"Medomics","res":3},{"col":10,"test":"Medomics","res":3},{"col":11,"test":"Medomics","res":3},{"col":12,"test":"Medomics","res":3},{"col":13,"test":"Medomics","res":0},{"col":14,"test":"Medomics","res":3},{"col":15,"test":"Medomics","res":3},{"col":16,"test":"Medomics","res":3},{"col":17,"test":"Medomics","res":3},{"col":18,"test":"Medomics","res":3},{"col":19,"test":"Medomics","res":3},{"col":20,"test":"Medomics","res":3},{"col":21,"test":"Medomics","res":3},{"col":22,"test":"Medomics","res":2},{"col":23,"test":"Medomics","res":3},{"col":24,"test":"Medomics","res":3},{"col":25,"test":"Medomics","res":2},{"col":26,"test":"Medomics","res":3},{"col":27,"test":"Medomics","res":3},{"col":28,"test":"Medomics","res":2},{"col":29,"test":"Medomics","res":2},
{"col":1,"test":"EUROIMMUN","res":0},{"col":2,"test":"EUROIMMUN","res":3},{"col":3,"test":"EUROIMMUN","res":3},{"col":4,"test":"EUROIMMUN","res":3},{"col":5,"test":"EUROIMMUN","res":3},{"col":6,"test":"EUROIMMUN","res":3},{"col":7,"test":"EUROIMMUN","res":3},{"col":8,"test":"EUROIMMUN","res":3},{"col":9,"test":"EUROIMMUN","res":3},{"col":10,"test":"EUROIMMUN","res":2},{"col":11,"test":"EUROIMMUN","res":3},{"col":12,"test":"EUROIMMUN","res":3},{"col":13,"test":"EUROIMMUN","res":0},{"col":14,"test":"EUROIMMUN","res":3},{"col":15,"test":"EUROIMMUN","res":3},{"col":16,"test":"EUROIMMUN","res":3},{"col":17,"test":"EUROIMMUN","res":3},{"col":18,"test":"EUROIMMUN","res":3},{"col":19,"test":"EUROIMMUN","res":3},{"col":20,"test":"EUROIMMUN","res":3},{"col":21,"test":"EUROIMMUN","res":3},{"col":22,"test":"EUROIMMUN","res":3},{"col":23,"test":"EUROIMMUN","res":3},{"col":24,"test":"EUROIMMUN","res":3},{"col":25,"test":"EUROIMMUN","res":1},{"col":26,"test":"EUROIMMUN","res":3},{"col":27,"test":"EUROIMMUN","res":3},{"col":28,"test":"EUROIMMUN","res":2},{"col":29,"test":"EUROIMMUN","res":2},
{"col":1,"test":"Watmind","res":0},{"col":2,"test":"Watmind","res":3},{"col":3,"test":"Watmind","res":3},{"col":4,"test":"Watmind","res":2},{"col":5,"test":"Watmind","res":3},{"col":6,"test":"Watmind","res":2},{"col":7,"test":"Watmind","res":3},{"col":8,"test":"Watmind","res":2},{"col":9,"test":"Watmind","res":0},{"col":10,"test":"Watmind","res":2},{"col":11,"test":"Watmind","res":3},{"col":12,"test":"Watmind","res":2},{"col":13,"test":"Watmind","res":0},{"col":14,"test":"Watmind","res":2},{"col":15,"test":"Watmind","res":0},{"col":16,"test":"Watmind","res":3},{"col":17,"test":"Watmind","res":2},{"col":18,"test":"Watmind","res":2},{"col":19,"test":"Watmind","res":2},{"col":20,"test":"Watmind","res":0},{"col":21,"test":"Watmind","res":2},{"col":22,"test":"Watmind","res":3},{"col":23,"test":"Watmind","res":2},{"col":24,"test":"Watmind","res":2},{"col":25,"test":"Watmind","res":3},{"col":26,"test":"Watmind","res":3},{"col":27,"test":"Watmind","res":2},{"col":28,"test":"Watmind","res":3},{"col":29,"test":"Watmind","res":2}
]
},
"vconcat":[
{"spacing":3,"vconcat":[
 {"width":556.7,"height":96,
  "title":{"text":"DAYS 1 - 9","anchor":"start","frame":"group","fontSize":16,"fontWeight":"normal","offset":0},
  "layer":[
   {"data":{"name":"b1"},"mark":{"type":"bar","color":"#151515"},
    "encoding":{"x":{"field":"col","type":"ordinal","scale":{"paddingInner":0.36,"paddingOuter":0.18},"axis":{"title":null,"labels":false,"ticks":false,"domainColor":"#111","domainWidth":2}},
     "y":{"field":"igg","type":"quantitative","scale":{"domain":[0,30],"nice":false},"axis":{"title":"IgG level (fold)","titleFontSize":14,"titleFontWeight":"normal","titleColor":"#111","titlePadding":10,"values":[0,10,20,30],"labelOverlap":false,"grid":false,"domainColor":"#111","domainWidth":2,"tickColor":"#111","tickWidth":1.6,"tickSize":7,"labelFontSize":12.5,"labelColor":"#111","labelPadding":2}}}},
   {"data":{"name":"thr"},"mark":{"type":"rule","strokeDash":[2,2],"strokeWidth":1.8},
    "encoding":{"y":{"field":"thr","type":"quantitative","axis":{"title":"IgG level (fold)","titleFontSize":14,"titleFontWeight":"normal","titleColor":"#111","titlePadding":10,"values":[0,10,20,30],"labelOverlap":false,"grid":false,"domainColor":"#111","domainWidth":2,"tickColor":"#111","tickWidth":1.6,"tickSize":7,"labelFontSize":12.5,"labelColor":"#111","labelPadding":2}},"stroke":{"field":"lab","type":"nominal","scale":{"range":["#e3211c"]},"legend":{"orient":"none","legendX":479,"legendY":836,"title":null,"symbolType":"stroke","symbolDash":[2,2],"symbolStrokeWidth":2,"symbolSize":300,"labelFontSize":11.5,"labelColor":"#111","labelOffset":8}}}}
  ]},
 {"width":556.7,"height":24,"data":{"name":"b1"},
  "layer":[
   {"mark":{"type":"rule","color":"#6d6d6d","strokeWidth":1.3,"xOffset":-5.5,"x2Offset":5.5,"yOffset":2.7},
    "encoding":{"x":{"aggregate":"min","field":"col","type":"quantitative","scale":{"domain":[0.5,38.5],"nice":false,"zero":false},"axis":null},"x2":{"aggregate":"max","field":"col"},"y":{"datum":"DAYS:","type":"nominal","axis":{"title":null,"domain":false,"ticks":false,"labelFontSize":11.5,"labelColor":"#111","labelPadding":6,"labelOffset":-6}},"detail":{"field":"day"}}},
   {"mark":{"type":"point","shape":"triangle-left","filled":true,"color":"#6d6d6d","opacity":1,"size":18,"xOffset":-4.5,"yOffset":2.7},
    "encoding":{"x":{"aggregate":"min","field":"col","type":"quantitative"},"y":{"datum":"DAYS:","type":"nominal"},"detail":{"field":"day"}}},
   {"mark":{"type":"point","shape":"triangle-right","filled":true,"color":"#6d6d6d","opacity":1,"size":18,"xOffset":4.5,"yOffset":2.7},
    "encoding":{"x":{"aggregate":"max","field":"col","type":"quantitative"},"y":{"datum":"DAYS:","type":"nominal"},"detail":{"field":"day"}}},
   {"mark":{"type":"text","fontSize":12,"dy":-6,"color":"#111"},
    "encoding":{"x":{"aggregate":"mean","field":"col","type":"quantitative"},"y":{"datum":"DAYS:","type":"nominal"},"text":{"field":"day"}}}
  ]},
 {"width":556.7,"height":131,"data":{"name":"h1"},
  "mark":{"type":"rect","stroke":"#9b9b9b","strokeWidth":1},
  "encoding":{"x":{"field":"col","type":"ordinal","scale":{"paddingInner":0,"paddingOuter":0},"axis":null},
   "y":{"field":"test","type":"nominal","scale":{"domain":["Deep Blue","Accu-Tell","GenBody","SureScreen","Spring","Biohit","Medomics","EUROIMMUN"," ","Watmind"],"paddingInner":0,"paddingOuter":0},"axis":{"title":null,"domain":false,"ticks":false,"labelFontSize":11,"labelColor":"#111","labelPadding":4}},
   "color":{"field":"res","type":"ordinal","scale":{"domain":[0,1,2,3],"range":["#ffffff","#fde3d6","#ef7c46","#e64c1a"]},
    "legend":{"orient":"none","legendX":481,"legendY":759,"title":"KEY:","titleFontSize":12,"titleFontWeight":"normal","titleColor":"#111","titlePadding":5,"symbolType":"square","symbolSize":169,"symbolStrokeColor":"#999","symbolStrokeWidth":1,"symbolOpacity":1,"clipHeight":13.5,"rowPadding":0,"labelFontSize":11.5,"labelColor":"#111","labelOffset":10,"labelExpr":"['Negative','Borderline','Positive','Strong positive'][datum.value]","encode":{"title":{"update":{"dx":{"value":24}}},"symbols":{"update":{"stroke":{"value":"#999"},"strokeWidth":{"value":1}}}}}}}}
]},
{"spacing":3,"vconcat":[
 {"width":630,"height":96,
  "title":{"text":"DAYS 10 - 19","anchor":"start","frame":"group","fontSize":16,"fontWeight":"normal","offset":3},
  "layer":[
   {"data":{"name":"b2"},"mark":{"type":"bar","color":"#151515"},
    "encoding":{"x":{"field":"col","type":"ordinal","scale":{"paddingInner":0.36,"paddingOuter":0.18},"axis":{"title":null,"labels":false,"ticks":false,"domainColor":"#111","domainWidth":2}},
     "y":{"field":"igg","type":"quantitative","scale":{"domain":[0,30],"nice":false},"axis":{"title":"IgG level (fold)","titleFontSize":14,"titleFontWeight":"normal","titleColor":"#111","titlePadding":10,"values":[0,10,20,30],"labelOverlap":false,"grid":false,"domainColor":"#111","domainWidth":2,"tickColor":"#111","tickWidth":1.6,"tickSize":7,"labelFontSize":12.5,"labelColor":"#111","labelPadding":2}}}},
   {"data":{"name":"thr"},"mark":{"type":"rule","strokeDash":[2,2],"strokeWidth":1.8},
    "encoding":{"y":{"field":"thr","type":"quantitative","axis":{"title":"IgG level (fold)","titleFontSize":14,"titleFontWeight":"normal","titleColor":"#111","titlePadding":10,"values":[0,10,20,30],"labelOverlap":false,"grid":false,"domainColor":"#111","domainWidth":2,"tickColor":"#111","tickWidth":1.6,"tickSize":7,"labelFontSize":12.5,"labelColor":"#111","labelPadding":2}},"stroke":{"field":"lab","type":"nominal"}}},
   {"data":{"name":"d2"},"mark":{"type":"point","filled":true,"fill":"#ffe000","stroke":"#8a8a8a","strokeWidth":0.8,"opacity":1,"size":40},
    "encoding":{"x":{"field":"col","type":"ordinal"},"y":{"field":"y","type":"quantitative","axis":{"title":"IgG level (fold)","titleFontSize":14,"titleFontWeight":"normal","titleColor":"#111","titlePadding":10,"values":[0,10,20,30],"labelOverlap":false,"grid":false,"domainColor":"#111","domainWidth":2,"tickColor":"#111","tickWidth":1.6,"tickSize":7,"labelFontSize":12.5,"labelColor":"#111","labelPadding":2}}}}
  ]},
 {"width":630,"height":24,"data":{"name":"b2"},
  "layer":[
   {"mark":{"type":"rule","color":"#6d6d6d","strokeWidth":1.3,"xOffset":-5.5,"x2Offset":5.5,"yOffset":2.7},
    "encoding":{"x":{"aggregate":"min","field":"col","type":"quantitative","scale":{"domain":[0.5,43.5],"nice":false,"zero":false},"axis":null},"x2":{"aggregate":"max","field":"col"},"y":{"datum":"DAYS:","type":"nominal","axis":{"title":null,"domain":false,"ticks":false,"labelFontSize":11.5,"labelColor":"#111","labelPadding":6,"labelOffset":-6}},"detail":{"field":"day"}}},
   {"mark":{"type":"point","shape":"triangle-left","filled":true,"color":"#6d6d6d","opacity":1,"size":18,"xOffset":-4.5,"yOffset":2.7},
    "encoding":{"x":{"aggregate":"min","field":"col","type":"quantitative"},"y":{"datum":"DAYS:","type":"nominal"},"detail":{"field":"day"}}},
   {"mark":{"type":"point","shape":"triangle-right","filled":true,"color":"#6d6d6d","opacity":1,"size":18,"xOffset":4.5,"yOffset":2.7},
    "encoding":{"x":{"aggregate":"max","field":"col","type":"quantitative"},"y":{"datum":"DAYS:","type":"nominal"},"detail":{"field":"day"}}},
   {"mark":{"type":"text","fontSize":12,"dy":-6,"color":"#111"},
    "encoding":{"x":{"aggregate":"mean","field":"col","type":"quantitative"},"y":{"datum":"DAYS:","type":"nominal"},"text":{"field":"day"}}}
  ]},
 {"width":630,"height":131,"data":{"name":"h2"},
  "mark":{"type":"rect","stroke":"#9b9b9b","strokeWidth":1},
  "encoding":{"x":{"field":"col","type":"ordinal","scale":{"paddingInner":0,"paddingOuter":0},"axis":null},
   "y":{"field":"test","type":"nominal","scale":{"domain":["Deep Blue","Accu-Tell","GenBody","SureScreen","Spring","Biohit","Medomics","EUROIMMUN"," ","Watmind"],"paddingInner":0,"paddingOuter":0},"axis":{"title":null,"domain":false,"ticks":false,"labelFontSize":11,"labelColor":"#111","labelPadding":4}},
   "color":{"field":"res","type":"ordinal"}}}
]},
{"spacing":3,"vconcat":[
 {"width":425,"height":96,
  "title":{"text":"DAYS 20 - 30","anchor":"start","frame":"group","fontSize":16,"fontWeight":"normal","offset":3},
  "layer":[
   {"data":{"name":"b3"},"mark":{"type":"bar","color":"#151515"},
    "encoding":{"x":{"field":"col","type":"ordinal","scale":{"paddingInner":0.36,"paddingOuter":0.18},"axis":{"title":null,"labels":false,"ticks":false,"domainColor":"#111","domainWidth":2}},
     "y":{"field":"igg","type":"quantitative","scale":{"domain":[0,30],"nice":false},"axis":{"title":"IgG level (fold)","titleFontSize":14,"titleFontWeight":"normal","titleColor":"#111","titlePadding":10,"values":[0,10,20,30],"labelOverlap":false,"grid":false,"domainColor":"#111","domainWidth":2,"tickColor":"#111","tickWidth":1.6,"tickSize":7,"labelFontSize":12.5,"labelColor":"#111","labelPadding":2}}}},
   {"data":{"name":"thr"},"mark":{"type":"rule","strokeDash":[2,2],"strokeWidth":1.8},
    "encoding":{"y":{"field":"thr","type":"quantitative","axis":{"title":"IgG level (fold)","titleFontSize":14,"titleFontWeight":"normal","titleColor":"#111","titlePadding":10,"values":[0,10,20,30],"labelOverlap":false,"grid":false,"domainColor":"#111","domainWidth":2,"tickColor":"#111","tickWidth":1.6,"tickSize":7,"labelFontSize":12.5,"labelColor":"#111","labelPadding":2}},"stroke":{"field":"lab","type":"nominal"}}},
   {"data":{"name":"d3"},"mark":{"type":"point","filled":true,"fill":"#ffe000","stroke":"#8a8a8a","strokeWidth":0.8,"opacity":1,"size":40},
    "encoding":{"x":{"field":"col","type":"ordinal"},"y":{"field":"y","type":"quantitative","axis":{"title":"IgG level (fold)","titleFontSize":14,"titleFontWeight":"normal","titleColor":"#111","titlePadding":10,"values":[0,10,20,30],"labelOverlap":false,"grid":false,"domainColor":"#111","domainWidth":2,"tickColor":"#111","tickWidth":1.6,"tickSize":7,"labelFontSize":12.5,"labelColor":"#111","labelPadding":2}}}}
  ]},
 {"width":425,"height":24,"data":{"name":"b3"},
  "layer":[
   {"mark":{"type":"rule","color":"#6d6d6d","strokeWidth":1.3,"xOffset":-5.5,"x2Offset":5.5,"yOffset":2.7},
    "encoding":{"x":{"aggregate":"min","field":"col","type":"quantitative","scale":{"domain":[0.5,29.5],"nice":false,"zero":false},"axis":null},"x2":{"aggregate":"max","field":"col"},"y":{"datum":"DAYS:","type":"nominal","axis":{"title":null,"domain":false,"ticks":false,"labelFontSize":11.5,"labelColor":"#111","labelPadding":6,"labelOffset":-6}},"detail":{"field":"day"}}},
   {"mark":{"type":"point","shape":"triangle-left","filled":true,"color":"#6d6d6d","opacity":1,"size":18,"xOffset":-4.5,"yOffset":2.7},
    "encoding":{"x":{"aggregate":"min","field":"col","type":"quantitative"},"y":{"datum":"DAYS:","type":"nominal"},"detail":{"field":"day"}}},
   {"mark":{"type":"point","shape":"triangle-right","filled":true,"color":"#6d6d6d","opacity":1,"size":18,"xOffset":4.5,"yOffset":2.7},
    "encoding":{"x":{"aggregate":"max","field":"col","type":"quantitative"},"y":{"datum":"DAYS:","type":"nominal"},"detail":{"field":"day"}}},
   {"mark":{"type":"text","fontSize":12,"dy":-6,"color":"#111"},
    "encoding":{"x":{"aggregate":"mean","field":"col","type":"quantitative"},"y":{"datum":"DAYS:","type":"nominal"},"text":{"field":"day"}}}
  ]},
 {"width":425,"height":131,"data":{"name":"h3"},
  "mark":{"type":"rect","stroke":"#9b9b9b","strokeWidth":1},
  "encoding":{"x":{"field":"col","type":"ordinal","scale":{"paddingInner":0,"paddingOuter":0},"axis":null},
   "y":{"field":"test","type":"nominal","scale":{"domain":["Deep Blue","Accu-Tell","GenBody","SureScreen","Spring","Biohit","Medomics","EUROIMMUN"," ","Watmind"],"paddingInner":0,"paddingOuter":0},"axis":{"title":null,"domain":false,"ticks":false,"labelFontSize":11,"labelColor":"#111","labelPadding":4}},
   "color":{"field":"res","type":"ordinal"}}}
]}
],
"spacing":30
}
